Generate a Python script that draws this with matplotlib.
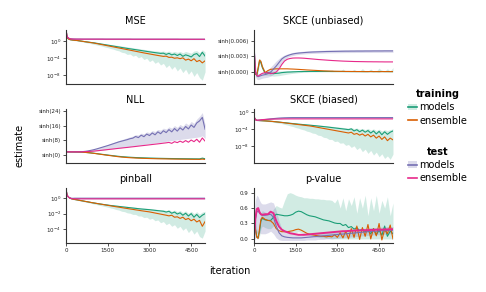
import numpy as np
import matplotlib
matplotlib.use("Agg")
import matplotlib.pyplot as plt
from matplotlib.lines import Line2D
from matplotlib.patches import Patch
from matplotlib.ticker import NullLocator, FixedLocator, FixedFormatter

# ---------------- data ----------------
iterations = [0, 25, 50, 100, 150, 200, 250, 300] + list(range(400, 5001, 100))

# MSE (log10 of estimate)
mse_train_models = [2.8, 1.3, 0.8, 0.5, 0.4, 0.35, 0.3, 0.27,
    0.2, 0.1, 0.0, -0.1, -0.18, -0.27, -0.35,
    -0.46, -0.57, -0.68, -0.79, -0.90, -1.01, -1.12, -1.23, -1.34, -1.45,
    -1.56, -1.67, -1.77, -1.87, -1.97, -2.07, -2.17, -2.28, -2.38, -2.48,
    -2.58, -2.67, -2.76, -2.85, -2.8, -3.1, -2.85, -3.2, -3.0, -3.35,
    -3.0, -3.55, -3.2, -3.4, -3.7, -3.1, -2.9, -3.6, -2.6, -3.5]
mse_train_models_lo = [2.75, 1.2, 0.7, 0.4, 0.3, 0.25, 0.2, 0.17,
    0.08, -0.03, -0.15, -0.28, -0.42, -0.56, -0.7,
    -0.85, -1.0, -1.15, -1.35, -1.5, -1.7, -1.85, -2.1, -2.25, -2.6,
    -2.7, -3.1, -3.0, -3.5, -3.3, -3.9, -3.6, -4.3, -4.0, -4.8,
    -4.4, -5.2, -4.8, -5.6, -5.2, -6.2, -5.6, -6.6, -5.9, -7.0,
    -6.3, -7.4, -6.6, -7.8, -7.0, -8.3, -7.4, -8.6, -9.2, -7.2]
mse_train_models_hi = [2.85, 1.4, 0.9, 0.6, 0.5, 0.45, 0.4, 0.37,
    0.3, 0.22, 0.13, 0.04, -0.04, -0.12, -0.2,
    -0.29, -0.38, -0.47, -0.56, -0.65, -0.74, -0.83, -0.92, -1.01, -1.1,
    -1.2, -1.3, -1.4, -1.5, -1.6, -1.7, -1.8, -1.9, -2.0, -2.1,
    -2.2, -2.25, -2.3, -2.4, -2.3, -2.5, -2.3, -2.6, -2.4, -2.6,
    -2.4, -2.7, -2.4, -2.6, -2.8, -2.3, -2.2, -2.7, -2.0, -2.5]
mse_train_ensemble = [2.8, 1.3, 0.8, 0.5, 0.4, 0.35, 0.3, 0.27,
    0.2, 0.1, 0.0, -0.1, -0.2, -0.3, -0.4,
    -0.53, -0.66, -0.79, -0.92, -1.05, -1.18, -1.31, -1.44, -1.57, -1.70,
    -1.83, -1.96, -2.09, -2.22, -2.35, -2.48, -2.61, -2.74, -2.86, -2.98,
    -3.1, -3.22, -3.34, -3.45, -3.56, -3.5, -3.8, -3.75, -4.0, -3.9,
    -4.1, -3.9, -4.45, -4.2, -4.6, -4.1, -4.8, -4.5, -5.1, -4.6]
mse_test_models = [2.8, 1.5, 1.0, 0.72, 0.62, 0.58, 0.56, 0.55,
    0.54, 0.54, 0.53, 0.53, 0.53, 0.53, 0.53,
    0.53, 0.53, 0.53, 0.52, 0.52, 0.52, 0.52, 0.52, 0.52, 0.52,
    0.52, 0.52, 0.52, 0.51, 0.51, 0.51, 0.51, 0.51, 0.51, 0.51,
    0.51, 0.51, 0.51, 0.51, 0.51, 0.51, 0.51, 0.51, 0.51, 0.51,
    0.5, 0.5, 0.5, 0.5, 0.5, 0.5, 0.5, 0.5, 0.5, 0.5]
mse_test_models_lo = [2.75, 1.4, 0.9, 0.62, 0.52, 0.48, 0.46, 0.45,
    0.44, 0.44, 0.43, 0.43, 0.43, 0.43, 0.43,
    0.43, 0.43, 0.43, 0.42, 0.42, 0.42, 0.42, 0.42, 0.42, 0.42,
    0.42, 0.42, 0.42, 0.41, 0.41, 0.41, 0.41, 0.41, 0.41, 0.41,
    0.41, 0.41, 0.41, 0.41, 0.41, 0.41, 0.41, 0.41, 0.41, 0.41,
    0.4, 0.4, 0.4, 0.4, 0.4, 0.4, 0.4, 0.4, 0.4, 0.4]
mse_test_models_hi = [2.85, 1.6, 1.1, 0.82, 0.72, 0.68, 0.66, 0.65,
    0.64, 0.64, 0.63, 0.63, 0.63, 0.63, 0.63,
    0.63, 0.63, 0.63, 0.62, 0.62, 0.62, 0.62, 0.62, 0.62, 0.62,
    0.62, 0.62, 0.62, 0.61, 0.61, 0.61, 0.61, 0.61, 0.61, 0.61,
    0.61, 0.61, 0.61, 0.61, 0.61, 0.61, 0.61, 0.61, 0.61, 0.61,
    0.6, 0.6, 0.6, 0.6, 0.6, 0.6, 0.6, 0.6, 0.6, 0.6]
mse_test_ensemble = [2.8, 1.5, 1.0, 0.7, 0.6, 0.56, 0.54, 0.53,
    0.52, 0.52, 0.52, 0.52, 0.52, 0.52, 0.52,
    0.52, 0.52, 0.52, 0.51, 0.51, 0.51, 0.51, 0.51, 0.51, 0.51,
    0.51, 0.51, 0.51, 0.5, 0.5, 0.5, 0.5, 0.5, 0.5, 0.5,
    0.5, 0.5, 0.5, 0.5, 0.5, 0.5, 0.5, 0.5, 0.5, 0.5,
    0.49, 0.49, 0.49, 0.49, 0.49, 0.49, 0.49, 0.49, 0.49, 0.49]

# SKCE (biased) (log10 of estimate)
skb_train_models = [-1.0, -1.5, -1.8, -2.0, -2.02, -2.04, -2.06, -2.08,
    -2.12, -2.17, -2.22, -2.28, -2.34, -2.41, -2.48,
    -2.55, -2.62, -2.69, -2.76, -2.83, -2.9, -2.96, -3.02, -3.08, -3.14,
    -3.2, -3.26, -3.33, -3.4, -3.47, -3.54, -3.62, -3.7, -3.78, -3.86,
    -3.94, -4.02, -4.1, -4.2, -4.0, -4.5, -4.2, -4.7, -4.3, -4.8,
    -4.4, -5.0, -4.5, -5.2, -4.6, -5.4, -4.7, -5.3, -4.8, -4.5]
skb_train_models_lo = [-1.05, -1.55, -1.85, -2.05, -2.08, -2.1, -2.12, -2.15,
    -2.2, -2.28, -2.36, -2.45, -2.55, -2.66, -2.78,
    -2.95, -3.1, -3.3, -3.45, -3.7, -3.85, -4.1, -4.25, -4.55, -4.7,
    -5.0, -5.1, -5.5, -5.6, -6.0, -6.1, -6.5, -6.5, -7.0, -6.9,
    -7.4, -7.3, -7.9, -7.7, -8.4, -8.0, -8.9, -8.4, -9.4, -8.8,
    -9.8, -9.1, -10.2, -9.5, -10.6, -9.9, -11.0, -10.4, -11.2, -10.0]
skb_train_models_hi = [-0.95, -1.45, -1.75, -1.95, -1.97, -1.99, -2.0, -2.02,
    -2.05, -2.08, -2.12, -2.16, -2.2, -2.25, -2.3,
    -2.36, -2.42, -2.48, -2.54, -2.6, -2.66, -2.72, -2.78, -2.84, -2.9,
    -2.96, -3.02, -3.08, -3.14, -3.2, -3.26, -3.33, -3.4, -3.47, -3.54,
    -3.6, -3.68, -3.75, -3.82, -3.7, -3.95, -3.8, -4.1, -3.9, -4.2,
    -3.9, -4.3, -4.0, -4.4, -4.1, -4.5, -4.2, -4.4, -4.2, -4.0]
skb_train_ensemble = [-1.0, -1.5, -1.8, -2.0, -2.02, -2.04, -2.06, -2.08,
    -2.12, -2.17, -2.22, -2.28, -2.35, -2.42, -2.5,
    -2.59, -2.67, -2.75, -2.83, -2.91, -2.99, -3.07, -3.15, -3.23, -3.31,
    -3.42, -3.54, -3.66, -3.78, -3.9, -4.02, -4.14, -4.26, -4.38, -4.5,
    -4.62, -4.74, -4.86, -4.98, -4.8, -5.3, -5.1, -5.5, -5.2, -5.7,
    -5.3, -5.9, -5.5, -6.2, -5.7, -6.5, -5.9, -6.8, -6.2, -6.6]
skb_test_models = [-1.0, -1.5, -1.8, -2.0, -1.98, -1.95, -1.92, -1.88,
    -1.8, -1.72, -1.65, -1.58, -1.52, -1.47, -1.43,
    -1.4, -1.38, -1.36, -1.35, -1.35, -1.35, -1.35, -1.35, -1.35, -1.35,
    -1.35, -1.35, -1.35, -1.35, -1.35, -1.35, -1.35, -1.35, -1.35, -1.35,
    -1.35, -1.35, -1.35, -1.35, -1.35, -1.35, -1.35, -1.35, -1.35, -1.35,
    -1.35, -1.35, -1.35, -1.35, -1.35, -1.35, -1.35, -1.35, -1.35, -1.35]
skb_test_models_lo = [-1.05, -1.6, -1.9, -2.1, -2.1, -2.1, -2.08, -2.05,
    -1.98, -1.92, -1.86, -1.8, -1.74, -1.69, -1.65,
    -1.62, -1.6, -1.58, -1.57, -1.57, -1.57, -1.57, -1.57, -1.57, -1.57,
    -1.57, -1.57, -1.57, -1.57, -1.57, -1.57, -1.57, -1.57, -1.57, -1.57,
    -1.57, -1.57, -1.57, -1.57, -1.57, -1.57, -1.57, -1.57, -1.57, -1.57,
    -1.57, -1.57, -1.57, -1.57, -1.57, -1.57, -1.57, -1.57, -1.57, -1.57]
skb_test_models_hi = [-0.95, -1.4, -1.7, -1.9, -1.86, -1.8, -1.76, -1.71,
    -1.62, -1.52, -1.44, -1.36, -1.3, -1.25, -1.21,
    -1.18, -1.16, -1.14, -1.13, -1.13, -1.13, -1.13, -1.13, -1.13, -1.13,
    -1.13, -1.13, -1.13, -1.13, -1.13, -1.13, -1.13, -1.13, -1.13, -1.13,
    -1.13, -1.13, -1.13, -1.13, -1.13, -1.13, -1.13, -1.13, -1.13, -1.13,
    -1.13, -1.13, -1.13, -1.13, -1.13, -1.13, -1.13, -1.13, -1.13, -1.13]
skb_test_ensemble = [-1.0, -1.5, -1.8, -2.0, -1.95, -1.9, -1.85, -1.82,
    -1.78, -1.75, -1.72, -1.7, -1.68, -1.67, -1.66,
    -1.65, -1.65, -1.65, -1.65, -1.65, -1.65, -1.65, -1.65, -1.65, -1.65,
    -1.65, -1.65, -1.65, -1.65, -1.65, -1.65, -1.65, -1.65, -1.65, -1.65,
    -1.65, -1.65, -1.65, -1.65, -1.65, -1.65, -1.65, -1.65, -1.65, -1.65,
    -1.65, -1.65, -1.65, -1.65, -1.65, -1.65, -1.65, -1.65, -1.65, -1.65]

# pinball (log10 of estimate)
pin_train_models = [1.07, 0.5, 0.25, 0.05, -0.05, -0.12, -0.16, -0.2,
    -0.26, -0.33, -0.39, -0.46, -0.52, -0.59, -0.65,
    -0.71, -0.77, -0.82, -0.87, -0.92, -0.97, -1.01, -1.05, -1.09, -1.13,
    -1.17, -1.21, -1.25, -1.29, -1.33, -1.37, -1.41, -1.44, -1.47, -1.5,
    -1.54, -1.58, -1.62, -1.66, -1.7, -1.8, -1.7, -1.95, -1.8, -2.05,
    -1.9, -2.2, -1.95, -2.3, -2.0, -2.45, -2.1, -2.5, -2.2, -2.0]
pin_train_models_lo = [1.0, 0.45, 0.2, 0.0, -0.1, -0.18, -0.22, -0.26,
    -0.32, -0.4, -0.47, -0.55, -0.62, -0.7, -0.78,
    -0.86, -0.94, -1.02, -1.1, -1.18, -1.28, -1.36, -1.48, -1.55, -1.7,
    -1.75, -1.9, -1.95, -2.1, -2.1, -2.3, -2.3, -2.5, -2.45, -2.7,
    -2.6, -2.9, -2.8, -3.15, -3.0, -3.4, -3.2, -3.6, -3.4, -3.85,
    -3.6, -4.1, -3.8, -4.4, -4.0, -4.6, -4.2, -4.9, -5.1, -4.2]
pin_train_models_hi = [1.12, 0.55, 0.3, 0.1, 0.0, -0.06, -0.1, -0.14,
    -0.2, -0.26, -0.32, -0.38, -0.44, -0.5, -0.56,
    -0.61, -0.66, -0.71, -0.76, -0.8, -0.85, -0.89, -0.93, -0.97, -1.01,
    -1.05, -1.09, -1.13, -1.16, -1.2, -1.24, -1.27, -1.3, -1.33, -1.36,
    -1.4, -1.43, -1.47, -1.5, -1.5, -1.6, -1.5, -1.7, -1.55, -1.75,
    -1.6, -1.85, -1.65, -1.95, -1.7, -2.0, -1.75, -2.05, -1.8, -1.7]
pin_train_ensemble = [1.07, 0.5, 0.25, 0.05, -0.05, -0.12, -0.16, -0.2,
    -0.26, -0.33, -0.39, -0.46, -0.52, -0.59, -0.65,
    -0.71, -0.77, -0.83, -0.89, -0.95, -1.01, -1.07, -1.13, -1.18, -1.24,
    -1.3, -1.35, -1.41, -1.46, -1.52, -1.57, -1.63, -1.68, -1.73, -1.78,
    -1.85, -1.92, -1.99, -2.06, -2.13, -2.2, -2.28, -2.2, -2.45, -2.4,
    -2.6, -2.45, -2.75, -2.6, -2.9, -2.7, -3.05, -2.85, -3.6, -3.0]
pin_test_models = [1.07, 0.5, 0.25, 0.05, -0.03, -0.06, -0.06, -0.05,
    -0.05, -0.05, -0.05, -0.05, -0.05, -0.05, -0.05,
    -0.05, -0.05, -0.05, -0.05, -0.05, -0.05, -0.05, -0.05, -0.05, -0.05,
    -0.05, -0.05, -0.05, -0.05, -0.05, -0.05, -0.05, -0.05, -0.05, -0.05,
    -0.05, -0.05, -0.05, -0.05, -0.05, -0.05, -0.05, -0.05, -0.05, -0.05,
    -0.05, -0.05, -0.05, -0.05, -0.05, -0.05, -0.05, -0.05, -0.05, -0.05]
pin_test_models_lo = [1.0, 0.42, 0.17, -0.03, -0.12, -0.15, -0.15, -0.15,
    -0.15, -0.15, -0.15, -0.15, -0.15, -0.15, -0.15,
    -0.15, -0.15, -0.15, -0.15, -0.15, -0.15, -0.15, -0.15, -0.15, -0.15,
    -0.15, -0.15, -0.15, -0.15, -0.15, -0.15, -0.15, -0.15, -0.15, -0.15,
    -0.15, -0.15, -0.15, -0.15, -0.15, -0.15, -0.15, -0.15, -0.15, -0.15,
    -0.15, -0.15, -0.15, -0.15, -0.15, -0.15, -0.15, -0.15, -0.15, -0.15]
pin_test_models_hi = [1.14, 0.58, 0.33, 0.13, 0.06, 0.04, 0.04, 0.05,
    0.05, 0.05, 0.05, 0.05, 0.05, 0.05, 0.05,
    0.05, 0.05, 0.05, 0.05, 0.05, 0.05, 0.05, 0.05, 0.05, 0.05,
    0.05, 0.05, 0.05, 0.05, 0.05, 0.05, 0.05, 0.05, 0.05, 0.05,
    0.05, 0.05, 0.05, 0.05, 0.05, 0.05, 0.05, 0.05, 0.05, 0.05,
    0.05, 0.05, 0.05, 0.05, 0.05, 0.05, 0.05, 0.05, 0.05, 0.05]
pin_test_ensemble = [1.07, 0.5, 0.25, 0.05, -0.05, -0.1, -0.12, -0.13,
    -0.13, -0.13, -0.13, -0.13, -0.13, -0.13, -0.13,
    -0.13, -0.13, -0.13, -0.13, -0.13, -0.13, -0.13, -0.13, -0.13, -0.13,
    -0.13, -0.13, -0.13, -0.13, -0.13, -0.13, -0.13, -0.13, -0.13, -0.13,
    -0.13, -0.13, -0.13, -0.13, -0.13, -0.13, -0.13, -0.13, -0.13, -0.13,
    -0.13, -0.13, -0.13, -0.13, -0.13, -0.13, -0.13, -0.13, -0.13, -0.13]

# NLL (asinh of estimate)
nll_train_models = [1.8, 1.8, 1.8, 1.8, 1.79, 1.78, 1.77, 1.76,
    1.74, 1.7, 1.63, 1.52, 1.39, 1.24, 1.06,
    0.87, 0.67, 0.47, 0.28, 0.09, -0.1, -0.28, -0.46, -0.63, -0.78,
    -0.9, -1.0, -1.1, -1.18, -1.26, -1.33, -1.39, -1.44, -1.49, -1.54,
    -1.58, -1.62, -1.66, -1.69, -1.72, -1.75, -1.78, -1.8, -1.83, -1.85,
    -1.87, -1.89, -1.91, -1.93, -1.95, -1.97, -1.98, -2.0, -1.6, -1.9]
nll_train_models_lo = [1.75, 1.75, 1.75, 1.75, 1.74, 1.73, 1.72, 1.71,
    1.69, 1.64, 1.56, 1.45, 1.31, 1.15, 0.97,
    0.77, 0.56, 0.36, 0.16, -0.03, -0.22, -0.4, -0.58, -0.76, -0.92,
    -1.05, -1.16, -1.26, -1.35, -1.43, -1.5, -1.56, -1.62, -1.67, -1.72,
    -1.76, -1.8, -1.84, -1.87, -1.9, -1.93, -1.96, -1.99, -2.01, -2.03,
    -2.05, -2.07, -2.09, -2.11, -2.13, -2.15, -2.16, -2.18, -1.9, -2.1]
nll_train_models_hi = [1.85, 1.85, 1.85, 1.85, 1.84, 1.83, 1.82, 1.81,
    1.8, 1.77, 1.72, 1.63, 1.52, 1.39, 1.24,
    1.07, 0.9, 0.72, 0.55, 0.38, 0.21, 0.05, -0.1, -0.25, -0.38,
    -0.5, -0.6, -0.69, -0.77, -0.85, -0.92, -0.98, -1.03, -1.08, -1.12,
    -1.16, -1.2, -1.23, -1.26, -1.29, -1.32, -1.34, -1.36, -1.38, -1.4,
    -1.42, -1.44, -1.46, -1.47, -1.49, -1.5, -1.51, -1.52, -1.1, -1.4]
nll_train_ensemble = [1.8, 1.8, 1.8, 1.8, 1.79, 1.78, 1.77, 1.76,
    1.74, 1.7, 1.62, 1.5, 1.36, 1.2, 1.0,
    0.8, 0.58, 0.36, 0.15, -0.05, -0.25, -0.45, -0.65, -0.85, -1.0,
    -1.13, -1.25, -1.35, -1.44, -1.52, -1.59, -1.65, -1.7, -1.75, -1.8,
    -1.84, -1.88, -1.92, -1.95, -1.98, -2.0, -2.03, -2.06, -2.08, -2.1,
    -2.12, -2.14, -2.16, -2.18, -2.2, -2.22, -2.23, -2.25, -2.1, -2.3]
nll_test_models = [1.8, 1.8, 1.8, 1.8, 1.8, 1.8, 1.8, 1.8,
    1.8, 1.85, 1.95, 2.1, 2.35, 2.65, 3.0,
    3.4, 3.85, 4.3, 4.75, 5.2, 5.7, 6.2, 6.7, 7.2, 7.6,
    8.0, 8.4, 8.9, 9.2, 10.1, 9.5, 10.8, 10.0, 11.4, 10.6,
    12.0, 11.0, 12.6, 11.6, 13.2, 12.2, 13.8, 12.6, 14.4, 13.0,
    14.8, 13.6, 15.5, 14.2, 16.3, 15.0, 17.4, 18.5, 20.4, 14.0]
nll_test_models_lo = [1.7, 1.7, 1.7, 1.7, 1.7, 1.7, 1.7, 1.7,
    1.7, 1.74, 1.8, 1.88, 1.98, 2.1, 2.25,
    2.4, 2.55, 2.72, 2.9, 3.1, 3.3, 3.5, 3.7, 3.9, 4.1,
    4.3, 4.5, 4.7, 4.9, 5.1, 5.3, 5.5, 5.8, 6.0, 6.2,
    6.4, 6.6, 6.8, 7.0, 7.2, 7.5, 7.7, 7.9, 8.1, 8.3,
    8.5, 8.7, 8.9, 9.1, 9.3, 9.5, 9.7, 9.9, 10.5, 9.0]
nll_test_models_hi = [1.9, 1.9, 1.9, 1.9, 1.9, 1.9, 1.9, 1.9,
    1.9, 1.97, 2.1, 2.28, 2.55, 2.9, 3.3,
    3.75, 4.25, 4.75, 5.25, 5.75, 6.3, 6.85, 7.4, 7.95, 8.4,
    8.9, 9.4, 9.9, 10.3, 11.1, 10.9, 11.9, 11.5, 12.6, 12.2,
    13.3, 12.8, 13.9, 13.5, 14.6, 14.1, 15.3, 14.6, 16.0, 15.0,
    16.6, 15.6, 17.4, 16.4, 18.2, 17.2, 19.5, 21.0, 23.0, 16.5]
nll_test_ensemble = [1.8, 1.8, 1.8, 1.8, 1.8, 1.8, 1.8, 1.8,
    1.8, 1.82, 1.86, 1.92, 2.0, 2.1, 2.22,
    2.37, 2.53, 2.7, 2.87, 3.04, 3.21, 3.38, 3.55, 3.72, 3.88,
    4.05, 4.2, 4.38, 4.55, 4.72, 4.9, 5.08, 5.25, 5.42, 5.6,
    5.78, 5.95, 6.12, 6.3, 6.5, 6.68, 6.9, 6.4, 7.3, 6.8,
    7.6, 6.9, 7.9, 7.0, 8.2, 7.3, 8.6, 7.0, 9.3, 7.6]

# SKCE (unbiased) (asinh of estimate, in units of 1e-3)
sku_train_models = [5.1, 2.0, -0.5, -0.7, 0.5, 2.1, 1.8, 0.8,
    -0.3, -0.2, -0.3, -0.4, -0.35, -0.3, -0.2,
    -0.15, -0.1, -0.08, -0.05, -0.03, 0.0, 0.0, 0.02, 0.02, 0.03,
    0.03, 0.03, 0.03, 0.03, 0.03, 0.03, 0.03, 0.02, 0.02, 0.02,
    0.02, 0.02, 0.01, 0.01, 0.01, 0.01, 0.01, 0.01, 0.0, 0.0,
    0.0, 0.02, 0.0, 0.01, 0.0, 0.03, 0.0, 0.01, 0.0, 0.0]
sku_train_models_lo = [4.8, 1.6, -0.9, -1.1, 0.1, 1.6, 1.3, 0.3,
    -0.7, -0.7, -0.8, -0.9, -0.85, -0.8, -0.7,
    -0.6, -0.5, -0.42, -0.35, -0.28, -0.22, -0.17, -0.13, -0.1, -0.08,
    -0.07, -0.07, -0.06, -0.06, -0.06, -0.06, -0.05, -0.05, -0.05, -0.05,
    -0.05, -0.05, -0.05, -0.05, -0.05, -0.05, -0.05, -0.05, -0.05, -0.05,
    -0.05, -0.05, -0.05, -0.05, -0.05, -0.05, -0.05, -0.05, -0.05, -0.05]
sku_train_models_hi = [5.4, 2.4, -0.1, -0.3, 0.9, 2.6, 2.3, 1.3,
    0.1, 0.2, 0.15, 0.1, 0.1, 0.12, 0.15,
    0.18, 0.2, 0.2, 0.2, 0.2, 0.2, 0.18, 0.18, 0.17, 0.17,
    0.16, 0.16, 0.4, 0.15, 0.15, 0.14, 0.14, 0.35, 0.13, 0.13,
    0.12, 0.5, 0.12, 0.11, 0.11, 0.45, 0.1, 0.1, 0.6, 0.1,
    0.1, 0.5, 0.1, 0.1, 0.7, 0.1, 0.1, 0.55, 0.1, 0.8]
sku_train_ensemble = [5.1, 2.0, -0.5, -0.6, 0.8, 2.3, 2.0, 1.0,
    -0.2, 0.2, 0.45, 0.5, 0.55, 0.55, 0.55,
    0.55, 0.55, 0.52, 0.5, 0.47, 0.44, 0.4, 0.37, 0.33, 0.3,
    0.27, 0.24, 0.21, 0.18, 0.15, 0.13, 0.11, 0.09, 0.07, 0.06,
    0.05, 0.04, 0.03, 0.03, 0.02, 0.02, 0.01, 0.01, 0.01, 0.0,
    0.0, 0.01, 0.0, 0.0, -0.01, 0.0, 0.01, 0.0, 0.0, 0.0]
sku_test_models = [5.1, 3.0, 0.0, -0.8, -1.0, -0.9, -0.8, -0.7,
    -0.6, -0.4, -0.1, 0.5, 1.1, 1.8, 2.5,
    2.9, 3.15, 3.35, 3.5, 3.6, 3.67, 3.72, 3.77, 3.81, 3.85,
    3.88, 3.9, 3.92, 3.94, 3.96, 3.98, 3.99, 4.0, 4.01, 4.02,
    4.03, 4.04, 4.05, 4.05, 4.06, 4.06, 4.07, 4.07, 4.07, 4.08,
    4.08, 4.08, 4.09, 4.09, 4.09, 4.09, 4.1, 4.1, 4.1, 4.1]
sku_test_models_lo = [4.8, 2.4, -1.0, -1.5, -1.6, -1.5, -1.4, -1.3,
    -1.2, -1.1, -0.9, -0.5, 0.1, 0.9, 1.8,
    2.4, 2.8, 3.05, 3.2, 3.32, 3.4, 3.45, 3.5, 3.54, 3.57,
    3.6, 3.62, 3.64, 3.66, 3.68, 3.7, 3.71, 3.72, 3.73, 3.74,
    3.75, 3.76, 3.77, 3.77, 3.78, 3.78, 3.79, 3.79, 3.79, 3.8,
    3.8, 3.8, 3.81, 3.81, 3.81, 3.81, 3.82, 3.82, 3.82, 3.82]
sku_test_models_hi = [5.4, 3.6, 1.0, 0.0, -0.4, -0.4, -0.3, -0.2,
    0.0, 0.4, 0.9, 1.5, 2.1, 2.6, 3.0,
    3.3, 3.5, 3.65, 3.8, 3.88, 3.95, 4.0, 4.05, 4.1, 4.13,
    4.16, 4.18, 4.2, 4.22, 4.24, 4.26, 4.27, 4.28, 4.29, 4.3,
    4.31, 4.32, 4.33, 4.33, 4.34, 4.34, 4.35, 4.35, 4.35, 4.36,
    4.36, 4.36, 4.37, 4.37, 4.37, 4.37, 4.38, 4.38, 4.38, 4.38]
sku_test_ensemble = [5.1, 2.8, 0.0, -0.8, -0.9, -0.7, -0.5, -0.35,
    -0.2, -0.25, -0.4, -0.3, -0.1, 0.5, 1.4,
    2.1, 2.45, 2.6, 2.68, 2.7, 2.7, 2.68, 2.65, 2.6, 2.55,
    2.5, 2.45, 2.4, 2.36, 2.32, 2.28, 2.24, 2.2, 2.17, 2.14,
    2.11, 2.08, 2.06, 2.04, 2.02, 2.0, 1.99, 1.98, 1.97, 1.96,
    1.95, 1.95, 1.94, 1.94, 1.93, 1.93, 1.92, 1.92, 1.92, 1.92]

# p-value
pv_train_models = [0.3, 0.35, 0.2, 0.05, 0.02, 0.15, 0.35, 0.4,
    0.37, 0.36, 0.36, 0.42, 0.48, 0.47, 0.46,
    0.45, 0.45, 0.46, 0.48, 0.52, 0.54, 0.53, 0.5, 0.47, 0.45,
    0.44, 0.43, 0.41, 0.39, 0.37, 0.36, 0.35, 0.33, 0.31, 0.3,
    0.3, 0.26, 0.28, 0.22, 0.24, 0.19, 0.22, 0.16, 0.19, 0.14,
    0.16, 0.1, 0.2, 0.08, 0.17, 0.07, 0.25, 0.05, 0.15, 0.1]
pv_train_models_lo = [0.1, 0.15, 0.05, 0.0, 0.0, 0.05, 0.2, 0.25,
    0.22, 0.2, 0.2, 0.25, 0.28, 0.25, 0.2,
    0.15, 0.12, 0.1, 0.1, 0.12, 0.14, 0.12, 0.1, 0.08, 0.06,
    0.05, 0.04, 0.03, 0.02, 0.02, 0.01, 0.01, 0.0, 0.0, 0.0,
    0.0, 0.0, 0.0, 0.0, 0.0, 0.0, 0.0, 0.0, 0.0, 0.0,
    0.0, 0.0, 0.0, 0.0, 0.0, 0.0, 0.0, 0.0, 0.0, 0.0]
pv_train_models_hi = [0.5, 0.55, 0.4, 0.2, 0.1, 0.3, 0.5, 0.55,
    0.52, 0.5, 0.5, 0.58, 0.65, 0.62, 0.6,
    0.75, 0.88, 0.9, 0.88, 0.85, 0.83, 0.82, 0.8, 0.8, 0.79,
    0.79, 0.78, 0.78, 0.77, 0.77, 0.76, 0.76, 0.75, 0.7, 0.78,
    0.6, 0.8, 0.55, 0.78, 0.65, 0.82, 0.5, 0.8, 0.6, 0.85,
    0.45, 0.8, 0.55, 0.85, 0.5, 0.75, 0.6, 0.82, 0.45, 0.7]
pv_train_ensemble = [0.3, 0.35, 0.2, 0.03, 0.01, 0.2, 0.38, 0.42,
    0.38, 0.36, 0.35, 0.3, 0.2, 0.16, 0.14,
    0.14, 0.14, 0.15, 0.16, 0.18, 0.19, 0.17, 0.14, 0.11, 0.09,
    0.08, 0.07, 0.06, 0.05, 0.05, 0.04, 0.05, 0.04, 0.08, 0.03,
    0.12, 0.02, 0.15, 0.0, 0.2, 0.03, 0.25, -0.01, 0.22, 0.05,
    0.28, 0.0, 0.2, 0.06, 0.3, -0.02, 0.18, 0.1, 0.27, 0.0]
pv_test_models = [0.05, 0.2, 0.38, 0.52, 0.55, 0.5, 0.47, 0.46,
    0.46, 0.47, 0.48, 0.42, 0.25, 0.12, 0.06,
    0.04, 0.03, 0.025, 0.02, 0.02, 0.02, 0.02, 0.025, 0.03, 0.035,
    0.04, 0.045, 0.05, 0.055, 0.06, 0.065, 0.07, 0.075, 0.08, 0.085,
    0.09, 0.095, 0.1, 0.105, 0.11, 0.115, 0.12, 0.125, 0.13, 0.135,
    0.14, 0.145, 0.15, 0.15, 0.155, 0.16, 0.16, 0.165, 0.17, 0.17]
pv_test_models_lo = [0.0, 0.0, 0.02, 0.1, 0.15, 0.12, 0.1, 0.1,
    0.1, 0.12, 0.15, 0.1, 0.02, -0.02, -0.03,
    -0.03, -0.03, -0.03, -0.03, -0.03, -0.03, -0.03, -0.03, -0.02, -0.02,
    -0.02, -0.02, -0.01, -0.01, -0.01, 0.0, 0.0, 0.0, 0.01, 0.01,
    0.02, 0.02, 0.03, 0.03, 0.04, 0.04, 0.05, 0.05, 0.06, 0.06,
    0.07, 0.07, 0.08, 0.08, 0.08, 0.09, 0.09, 0.09, 0.1, 0.1]
pv_test_models_hi = [0.3, 0.6, 0.75, 0.85, 0.82, 0.75, 0.7, 0.68,
    0.68, 0.7, 0.72, 0.7, 0.55, 0.35, 0.2,
    0.15, 0.12, 0.1, 0.09, 0.09, 0.09, 0.09, 0.1, 0.1, 0.11,
    0.11, 0.12, 0.12, 0.13, 0.13, 0.14, 0.14, 0.15, 0.15, 0.16,
    0.16, 0.17, 0.17, 0.18, 0.18, 0.19, 0.19, 0.2, 0.2, 0.21,
    0.21, 0.22, 0.22, 0.22, 0.23, 0.23, 0.23, 0.24, 0.24, 0.24]
pv_test_ensemble = [0.05, 0.2, 0.4, 0.58, 0.6, 0.52, 0.48, 0.47,
    0.48, 0.48, 0.53, 0.5, 0.35, 0.24, 0.18,
    0.15, 0.13, 0.11, 0.1, 0.09, 0.08, 0.08, 0.08, 0.085, 0.09,
    0.095, 0.1, 0.105, 0.11, 0.115, 0.12, 0.125, 0.13, 0.135, 0.14,
    0.145, 0.15, 0.15, 0.155, 0.16, 0.16, 0.165, 0.165, 0.17, 0.17,
    0.17, 0.175, 0.175, 0.18, 0.18, 0.18, 0.185, 0.185, 0.185, 0.19]

x_ticks = [0, 1500, 3000, 4500]
titles = ["MSE", "SKCE (unbiased)", "NLL", "SKCE (biased)", "pinball", "p-value"]

# ---------------- style ----------------
GREEN, ORANGE, PURPLE, PINK = "#1b9e77", "#d95f02", "#7570b3", "#e7298a"
LW = 0.8
plt.rcParams["font.family"] = ["DejaVu Sans"]
SPINE = "#333333"

fig = plt.figure(figsize=(4.86, 2.92), dpi=100)

W = 0.286
H = 0.1866
col_x = [0.136, 0.5226]
row_y = [0.7123, 0.4418, 0.1695]


def make_ax(r, c):
    ax = fig.add_axes([col_x[c], row_y[r], W, H])
    for s in ["top", "right"]:
        ax.spines[s].set_visible(False)
    for s in ["left", "bottom"]:
        ax.spines[s].set_color(SPINE)
        ax.spines[s].set_linewidth(0.8)
    ax.tick_params(axis="both", labelsize=4, length=2.2, width=0.6,
                   color=SPINE, labelcolor="#222222", pad=1.5)
    ax.set_xlim(0, 5000)
    ax.set_xticks(x_ticks)
    if r < 2:
        ax.tick_params(axis="x", length=0, labelbottom=False)
    ax.xaxis.set_minor_locator(NullLocator())
    return ax


def draw(ax, tm, tm_lo, tm_hi, te, sm, sm_lo, sm_hi, se, conv, pink_lw=LW):
    x = iterations
    ax.fill_between(x, conv(tm_lo), conv(tm_hi), color=GREEN, alpha=0.2, lw=0)
    ax.fill_between(x, conv(sm_lo), conv(sm_hi), color=PURPLE, alpha=0.25, lw=0)
    ax.plot(x, conv(tm), color=GREEN, lw=LW)
    ax.plot(x, conv(te), color=ORANGE, lw=LW)
    ax.plot(x, conv(sm), color=PURPLE, lw=LW)
    ax.plot(x, conv(se), color=PINK, lw=pink_lw)


def pow10(a):
    return 10.0 ** np.asarray(a, dtype=float)


def ident(a):
    return np.asarray(a, dtype=float)


def milli(a):
    return np.asarray(a, dtype=float) * 1e-3


def log_axis(ax, ticks, lo, hi):
    ax.set_yscale("log")
    ax.set_ylim(10.0 ** lo, 10.0 ** hi)
    ax.yaxis.set_major_locator(FixedLocator(ticks))
    ax.yaxis.set_minor_locator(NullLocator())


# MSE
ax = make_ax(0, 0)
draw(ax, mse_train_models, mse_train_models_lo, mse_train_models_hi, mse_train_ensemble,
     mse_test_models, mse_test_models_lo, mse_test_models_hi, mse_test_ensemble, pow10)
log_axis(ax, [1, 1e-4, 1e-8], -10.1, 2.8)
ax.set_title(titles[0], fontsize=7, pad=4)

# SKCE unbiased
ax = make_ax(0, 1)
draw(ax, sku_train_models, sku_train_models_lo, sku_train_models_hi, sku_train_ensemble,
     sku_test_models, sku_test_models_lo, sku_test_models_hi, sku_test_ensemble, milli)
ax.set_ylim(-0.00246, 0.00834)
ax.yaxis.set_major_locator(FixedLocator([0.0, 0.003, 0.006]))
ax.yaxis.set_major_formatter(FixedFormatter(["sinh(0.000)", "sinh(0.003)", "sinh(0.006)"]))
ax.set_title(titles[1], fontsize=7, pad=4)

# NLL
ax = make_ax(1, 0)
draw(ax, nll_train_models, nll_train_models_lo, nll_train_models_hi, nll_train_ensemble,
     nll_test_models, nll_test_models_lo, nll_test_models_hi, nll_test_ensemble, ident)
ax.set_ylim(-4.2, 25.2)
ax.yaxis.set_major_locator(FixedLocator([0, 8, 16, 24]))
ax.yaxis.set_major_formatter(FixedFormatter(["sinh(0)", "sinh(8)", "sinh(16)", "sinh(24)"]))
ax.set_title(titles[2], fontsize=7, pad=4)

# SKCE biased
ax = make_ax(1, 1)
draw(ax, skb_train_models, skb_train_models_lo, skb_train_models_hi, skb_train_ensemble,
     skb_test_models, skb_test_models_lo, skb_test_models_hi, skb_test_ensemble, pow10)
log_axis(ax, [1, 1e-4, 1e-8], -12.07, 0.8)
ax.set_title(titles[3], fontsize=7, pad=4)

# pinball
ax = make_ax(2, 0)
draw(ax, pin_train_models, pin_train_models_lo, pin_train_models_hi, pin_train_ensemble,
     pin_test_models, pin_test_models_lo, pin_test_models_hi, pin_test_ensemble, pow10)
log_axis(ax, [1, 1e-2, 1e-4], -5.65, 1.24)
ax.set_title(titles[4], fontsize=7, pad=4)

# p-value
ax = make_ax(2, 1)
draw(ax, pv_train_models, pv_train_models_lo, pv_train_models_hi, pv_train_ensemble,
     pv_test_models, pv_test_models_lo, pv_test_models_hi, pv_test_ensemble, ident,
     pink_lw=1.4)
ax.set_ylim(-0.07, 0.99)
ax.yaxis.set_major_locator(FixedLocator([0.0, 0.3, 0.6, 0.9]))
ax.yaxis.set_major_formatter(FixedFormatter(["0.0", "0.3", "0.6", "0.9"]))
ax.set_title(titles[5], fontsize=7, pad=4)

# labels
fig.text(0.041, 0.503, "estimate", rotation=90, ha="center", va="center", fontsize=7)
fig.text(0.473, 0.072, "iteration", ha="center", va="center", fontsize=7)

# legends
h_tr_models = (Patch(facecolor=GREEN, alpha=0.2, edgecolor="none"),
               Line2D([], [], color=GREEN, lw=1.2))
h_tr_ens = Line2D([], [], color=ORANGE, lw=1.2)
h_te_models = (Patch(facecolor=PURPLE, alpha=0.25, edgecolor="none"),
               Line2D([], [], color=PURPLE, lw=1.2))
h_te_ens = Line2D([], [], color=PINK, lw=1.2)

common = dict(loc="center", frameon=False, fontsize=7, handlelength=1.0,
              handletextpad=0.2, labelspacing=0.35, borderaxespad=0,
              title_fontproperties={"weight": "bold", "size": 7})
fig.legend([h_tr_models, h_tr_ens], ["models", "ensemble"], title="training",
           bbox_to_anchor=(0.9, 0.632), **common)
fig.legend([h_te_models, h_te_ens], ["models", "ensemble"], title="test",
           bbox_to_anchor=(0.9, 0.435), **common)

fig.savefig("out.png", dpi=100)
